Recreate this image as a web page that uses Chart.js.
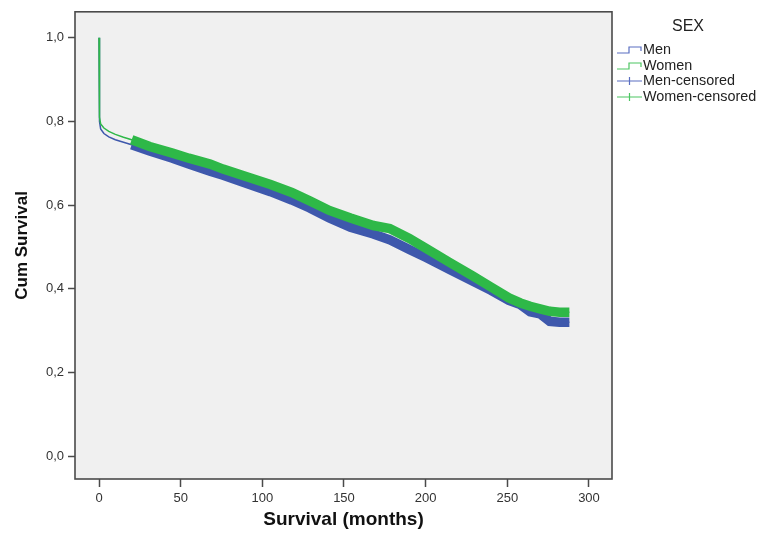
<!DOCTYPE html>
<html>
<head>
<meta charset="utf-8">
<script src="https://cdn.jsdelivr.net/npm/chart.js@4"></script>
<style>
  html, body { margin: 0; padding: 0; background: #ffffff; }
  #wrap { width: 758px; height: 533px; }
</style>
</head>
<body>
<div id="wrap"><canvas id="c" width="758" height="533"></canvas></div>
<script>
// ---- data ----
const months = [0, 0.3, 1, 3, 6, 10, 15, 20, 31, 45, 55, 68, 76, 90, 105, 118, 129, 141, 154, 168, 178, 190, 200, 215, 229, 240, 251, 258, 264, 270, 276, 282, 288];
const menSurvival = [1.0, 0.80, 0.782, 0.771, 0.763, 0.756, 0.750, 0.744, 0.729, 0.712, 0.698, 0.681, 0.671, 0.652, 0.632, 0.612, 0.593, 0.569, 0.547, 0.531, 0.517, 0.494, 0.475, 0.445, 0.418, 0.396, 0.372, 0.362, 0.345, 0.340, 0.322, 0.320, 0.320];
const womenSurvival = [1.0, 0.81, 0.794, 0.784, 0.776, 0.769, 0.762, 0.756, 0.740, 0.724, 0.712, 0.698, 0.686, 0.668, 0.649, 0.630, 0.610, 0.587, 0.569, 0.551, 0.544, 0.520, 0.497, 0.462, 0.430, 0.404, 0.378, 0.366, 0.358, 0.352, 0.346, 0.344, 0.344];
const censorStart = 20; // censoring marks become dense from here on
const seriesNames = ['Men', 'Women', 'Men-censored', 'Women-censored'];
const legendTitle = 'SEX';
const xTicks = [0, 50, 100, 150, 200, 250, 300];
const yTicks = [0.0, 0.2, 0.4, 0.6, 0.8, 1.0];
const yTickLabels = ['0,0', '0,2', '0,4', '0,6', '0,8', '1,0'];
const xTitle = 'Survival (months)';
const yTitle = 'Cum Survival';

// ---- build points ----
const toPts = (vals) => months.map((m, i) => ({x: m, y: vals[i]}));
const censPts = (vals) => toPts(vals).filter(p => p.x >= censorStart);

const BLUE = '#3e58ac';
const GREEN = '#2eb848';
const BLUE_L = '#5a6fc2';
const GREEN_L = '#4cc662';
const FRAME = '#4a4a4a';
const FONT = '"Liberation Sans", Arial, sans-serif';

const bgFrame = {
  id: 'bgFrame',
  beforeDraw(chart) {
    const {ctx, chartArea: a} = chart;
    ctx.save();
    ctx.fillStyle = '#f0f0f0';
    ctx.fillRect(a.left, a.top, a.right - a.left, a.bottom - a.top);
    ctx.restore();
  },
  afterDraw(chart) {
    const {ctx, chartArea: a} = chart;
    ctx.save();
    ctx.strokeStyle = FRAME;
    ctx.lineWidth = 1.6;
    ctx.strokeRect(a.left, a.top, a.right - a.left, a.bottom - a.top);
    // legend
    ctx.fillStyle = '#222';
    ctx.font = '16px ' + FONT;
    ctx.textAlign = 'center';
    ctx.textBaseline = 'middle';
    ctx.fillText(legendTitle, 688, 27);
    ctx.font = '14.4px ' + FONT;
    ctx.textAlign = 'left';
    const rows = [50, 66, 81, 97];
    const cols = [BLUE_L, GREEN_L, BLUE_L, GREEN_L];
    rows.forEach((y, i) => {
      ctx.strokeStyle = cols[i];
      ctx.lineWidth = 1.2;
      ctx.beginPath();
      if (i < 2) {
        ctx.moveTo(617, y + 3);
        ctx.lineTo(629, y + 3);
        ctx.lineTo(629, y - 3);
        ctx.lineTo(641, y - 3);
        ctx.lineTo(641, y + 1);
      } else {
        ctx.moveTo(617, y);
        ctx.lineTo(642, y);
        ctx.moveTo(629.5, y - 4);
        ctx.lineTo(629.5, y + 4);
      }
      ctx.stroke();
      ctx.fillStyle = '#222';
      ctx.fillText(seriesNames[i], 643, y + 0.5);
    });
    ctx.restore();
  }
};

new Chart(document.getElementById('c'), {
  type: 'line',
  data: {
    datasets: [
      {label: seriesNames[0], data: toPts(menSurvival), borderColor: BLUE, borderWidth: 1.5, pointRadius: 0, tension: 0, order: 4},
      {label: seriesNames[1], data: toPts(womenSurvival), borderColor: GREEN, borderWidth: 1.5, pointRadius: 0, tension: 0, order: 3},
      {label: seriesNames[2], data: censPts(menSurvival), borderColor: BLUE, borderWidth: 9.5, pointRadius: 0, tension: 0, order: 2, borderCapStyle: 'butt'},
      {label: seriesNames[3], data: censPts(womenSurvival), borderColor: GREEN, borderWidth: 9.5, pointRadius: 0, tension: 0, order: 1, borderCapStyle: 'butt'}
    ]
  },
  options: {
    responsive: false,
    animation: false,
    devicePixelRatio: 1,
    layout: {padding: {left: 0, right: 146, top: 10, bottom: 0}},
    plugins: {legend: {display: false}, tooltip: {enabled: false}},
    scales: {
      x: {
        type: 'linear',
        min: -14.7,
        max: 314.1,
        afterBuildTicks(s) { s.ticks = xTicks.map(v => ({value: v})); },
        afterFit(s) { s.height = 54; },
        border: {display: false},
        grid: {drawOnChartArea: false, drawTicks: true, tickLength: 8, tickColor: FRAME, tickWidth: 1.5},
        ticks: {color: '#333', font: {size: 13, family: FONT}, padding: 4, maxRotation: 0,
                callback: (v) => String(v)},
        title: {display: true, text: xTitle, color: '#111', padding: {top: 0, bottom: 2},
                font: {size: 19, weight: 'bold', family: FONT}}
      },
      y: {
        type: 'linear',
        min: -0.0548,
        max: 1.0619,
        afterBuildTicks(s) { s.ticks = yTicks.map(v => ({value: v})); },
        afterFit(s) { s.width = 75; },
        border: {display: false},
        grid: {drawOnChartArea: false, drawTicks: true, tickLength: 7, tickColor: FRAME, tickWidth: 1.5},
        ticks: {color: '#333', font: {size: 13, family: FONT}, padding: 4,
                callback: (v) => { const i = yTicks.findIndex(t => Math.abs(t - v) < 1e-6); return i >= 0 ? yTickLabels[i] : ''; }},
        title: {display: true, text: yTitle, color: '#111', padding: {top: 12, bottom: 0},
                font: {size: 17, weight: 'bold', family: FONT}}
      }
    }
  },
  plugins: [bgFrame]
});
</script>
</body>
</html>
